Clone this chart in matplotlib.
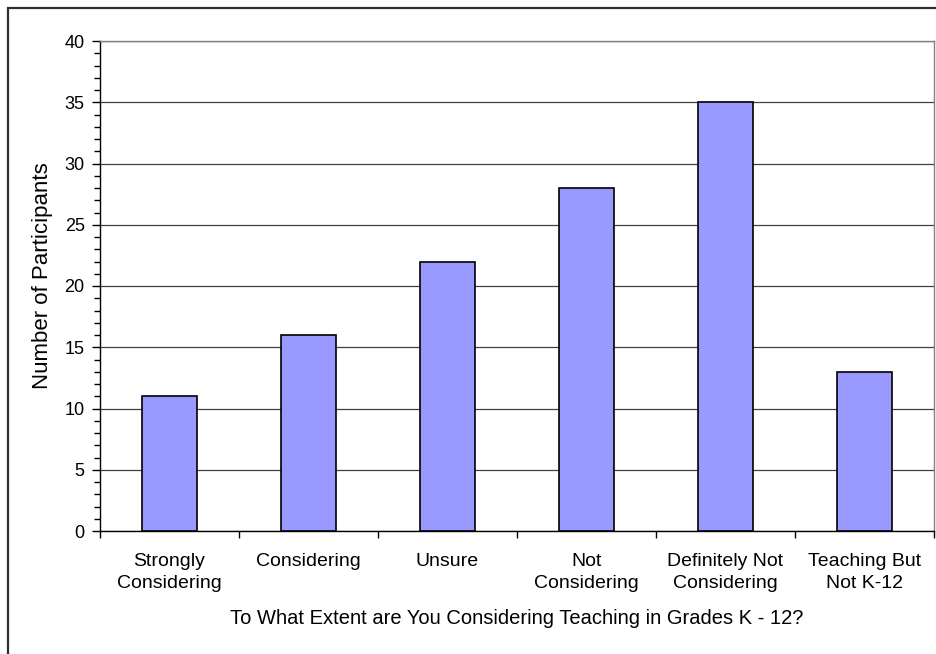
import matplotlib
matplotlib.use('Agg')
import matplotlib.pyplot as plt
from matplotlib.patches import Rectangle
from matplotlib.ticker import MultipleLocator, FixedLocator

categories = ['Strongly\nConsidering', 'Considering', 'Unsure', 'Not\nConsidering',
              'Definitely Not\nConsidering', 'Teaching But\nNot K-12']
counts = [11, 16, 22, 28, 35, 13]
xlabel = 'To What Extent are You Considering Teaching in Grades K - 12?'
ylabel = 'Number of Participants'

plt.rcParams['font.family'] = ['Liberation Sans', 'DejaVu Sans']
W, H = 936, 654
fig = plt.figure(figsize=(W / 100, H / 100), dpi=100)
fig.patch.set_facecolor('white')

# outer chart frame (cut by the image at right/bottom)
fig.patches.append(Rectangle((8 / W, -0.05), 1.1, 1 - 8 / H + 0.05, transform=fig.transFigure,
                             fill=False, edgecolor='#303030', linewidth=1.6))

ax = fig.add_axes([100 / W, 123 / H, 834 / W, 490 / H])
x = range(len(categories))
ax.bar(x, counts, width=0.4, color='#9999FF', edgecolor='black', linewidth=1.2, zorder=3)

ax.set_xlim(-0.5, len(categories) - 0.5)
ax.set_ylim(0, 40)
ax.yaxis.set_major_locator(MultipleLocator(5))
ax.yaxis.set_minor_locator(MultipleLocator(1))
ax.grid(axis='y', which='major', color='#404040', linewidth=0.9, zorder=1)

ax.set_xticks(list(x))
ax.set_xticklabels(categories, fontsize=14, linespacing=1.4)
ax.xaxis.set_minor_locator(FixedLocator([i - 0.5 for i in range(len(categories) + 1)]))
ax.tick_params(axis='x', which='major', length=0, pad=16)
ax.tick_params(axis='x', which='minor', length=5, width=1, direction='out')
ax.tick_params(axis='y', which='major', length=6, width=1, labelsize=13, pad=5)
ax.tick_params(axis='y', which='minor', length=4, width=1)

for s in ['left', 'bottom']:
    ax.spines[s].set_color('black')
    ax.spines[s].set_linewidth(1)
for s in ['top', 'right']:
    ax.spines[s].set_color('#808080')
    ax.spines[s].set_linewidth(1)

ax.set_xlabel(xlabel, fontsize=14.5)
ax.xaxis.set_label_coords(0.5, -0.159)
ax.set_ylabel(ylabel, fontsize=16)
ax.yaxis.set_label_coords(-0.056, 0.522)

fig.savefig('out.png', dpi=100)
